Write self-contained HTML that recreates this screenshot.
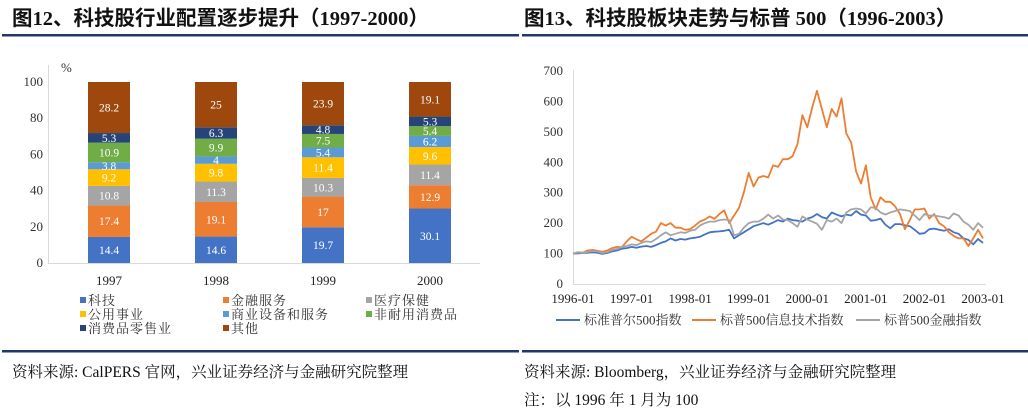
<!DOCTYPE html>
<html><head><meta charset="utf-8"><style>
body{margin:0;background:#fff;}
svg{display:block;font-family:"Liberation Serif","Noto Serif CJK SC",serif;}
</style></head><body>
<svg id="s" width="1028" height="413">
<g><text x="12" y="25" font-size="20.5" font-weight="bold" fill="#111" font-family="Liberation Serif, Noto Sans CJK SC, sans-serif">图12、科技股行业配置逐步提升（1997-2000）</text></g>
<g><text x="524" y="25" font-size="20.5" font-weight="bold" fill="#111" font-family="Liberation Serif, Noto Sans CJK SC, sans-serif">图13、科技股板块走势与标普 500（1996-2003）</text></g>
<rect x="2" y="34" width="517" height="2.5" fill="#1f3864"/>
<rect x="522" y="34" width="506" height="2.5" fill="#1f3864"/>
<rect x="2" y="350" width="517" height="2.5" fill="#1f3864"/>
<rect x="522" y="350" width="506" height="2.5" fill="#1f3864"/>
<text x="12" y="377" font-size="15.5" fill="#111">资料来源: CalPERS 官网，兴业证券经济与金融研究院整理</text>
<text x="524" y="377" font-size="15.5" fill="#111">资料来源: Bloomberg，兴业证券经济与金融研究院整理</text>
<text x="524" y="405" font-size="15.5" fill="#111">注：以 1996 年 1 月为 100</text>
<g id="left"></g>
<g id="right"></g>
</svg>
<script>
const years=['1997','1998','1999','2000'];
const sectors=['科技','金融服务','医疗保健','公用事业','商业设备和服务','非耐用消费品','消费品零售业','其他'];
const colors=['#4472c4','#ed7d31','#a5a5a5','#ffc000','#5b9bd5','#70ad47','#264478','#9e480e'];
const tech=[14.4,14.6,19.7,30.1];
const fin=[17.4,19.1,17,12.9];
const health=[10.8,11.3,10.3,11.4];
const util=[9.2,9.8,11.4,9.6];
const biz=[3.8,4,5.4,6.2];
const nondur=[10.9,9.9,7.5,5.4];
const retail=[5.3,6.3,4.8,5.3];
const other=[28.2,25,23.9,19.1];
const leftTicks=[0,20,40,60,80,100];

const dates=['1996-01','1997-01','1998-01','1999-01','2000-01','2001-01','2002-01','2003-01'];
const rightTicks=[0,100,200,300,400,500,600,700];
const spx=[100,101,102,103,104,103,99,102,107,110,116,118,
122,119,123,125,122,128,135,140,150,143,148,146,
150,152,155,163,170,172,173,175,178,150,160,170,
180,190,195,200,195,202,210,205,215,210,208,205,
215,220,230,220,215,235,228,222,228,225,240,228,
225,208,210,215,195,183,197,197,193,190,178,165,
167,180,182,178,175,180,170,165,150,145,130,148,135];
const itIdx=[100,104,103,110,112,109,106,110,118,122,121,140,
155,147,140,152,165,172,200,192,200,185,185,178,
180,192,205,212,222,214,230,242,200,225,250,300,
365,320,350,355,350,390,385,410,410,420,460,555,
515,580,635,575,515,575,550,610,495,465,370,330,
390,285,245,285,270,270,255,230,180,210,245,245,
248,215,230,200,190,170,158,150,150,125,150,178,150];
const finIdx=[100,105,103,106,108,107,102,105,112,115,122,125,
130,128,135,140,138,148,160,170,160,165,170,168,
175,178,192,200,205,205,210,212,210,160,165,185,
200,205,205,215,228,215,225,212,210,200,188,222,
212,205,198,178,210,205,215,200,235,245,248,245,
232,252,250,235,228,235,240,245,243,240,225,210,
230,225,225,222,220,215,232,225,205,195,178,200,185];
const seriesNames=['标准普尔500指数','标普500信息技术指数','标普500金融指数'];
const seriesColors=['#4472c4','#ed7d31','#a5a5a5'];

const NS='http://www.w3.org/2000/svg';
function mk(parent,tag,attrs,txt){const e=document.createElementNS(NS,tag);for(const k in attrs)e.setAttribute(k,attrs[k]);if(txt!==undefined)e.textContent=txt;parent.appendChild(e);return e;}

// LEFT chart
const L=document.getElementById('left');
const ly=v=>263-v*1.81;
const lx=i=>88+i*107;
const bw=42;
mk(L,'line',{x1:48,x2:480,y1:263.5,y2:263.5,stroke:'#d9d9d9','stroke-width':1});
mk(L,'line',{x1:48.5,x2:48.5,y1:65,y2:263.5,stroke:'#d9d9d9','stroke-width':1});
mk(L,'text',{x:61,y:72,'font-size':13,fill:'#333'},'%');
leftTicks.forEach(t=>{const e=mk(L,'text',{x:43,y:ly(t)+4,'font-size':13,fill:'#333','text-anchor':'end'},t);

});
const stacks=[tech,fin,health,util,biz,nondur,retail,other];
years.forEach((yr,i)=>{
  let cum=0;
  stacks.forEach((arr,k)=>{
    const v=arr[i];
    const r=mk(L,'rect',{x:lx(i),y:ly(cum+v),width:bw,height:ly(cum)-ly(cum+v),fill:colors[k]});
    
    
    const t=mk(L,'text',{x:lx(i)+bw/2,y:(ly(cum)+ly(cum+v))/2+4,'font-size':11.5,fill:'#fff','text-anchor':'middle'},v);
    
    
    cum+=v;
  });
  const xl=mk(L,'text',{x:lx(i)+bw/2,y:285,'font-size':13,fill:'#222','text-anchor':'middle'},yr);
  
  
});
sectors.forEach((s,k)=>{
  const col=k%3,row=Math.floor(k/3);
  const x=80+col*143,y=305+row*14;
  const g=mk(L,'g',{});
  
  
  mk(g,'rect',{x:x,y:y-8,width:6,height:6,fill:colors[k]});
  mk(g,'text',{x:x+8,y:y,'font-size':13,'letter-spacing':'1',fill:'#333','font-family':'Liberation Serif, Noto Serif CJK SC, serif'},s);
});

// RIGHT chart
const R=document.getElementById('right');
const ry=v=>284-v*(213/700);
const rx=i=>573+i*(410/84);
mk(R,'line',{x1:573,x2:986,y1:284.5,y2:284.5,stroke:'#d9d9d9','stroke-width':1});
mk(R,'line',{x1:573.5,x2:573.5,y1:70,y2:284.5,stroke:'#d9d9d9','stroke-width':1});
rightTicks.forEach(t=>{const e=mk(R,'text',{x:563,y:ry(t)+4,'font-size':13,fill:'#333','text-anchor':'end'},t);

});
dates.forEach((d,j)=>{const e=mk(R,'text',{x:rx(j*12),y:303,'font-size':13,fill:'#222','text-anchor':'middle'},d);

});
[spx,itIdx,finIdx].forEach((arr,k)=>{
  const p=mk(R,'polyline',{points:arr.map((v,i)=>rx(i).toFixed(1)+','+ry(v).toFixed(1)).join(' '),fill:'none',stroke:seriesColors[k],'stroke-width':1.8,'stroke-linejoin':'round'});
  
  
});
[556,692,856].forEach((x,k)=>{
  const g=mk(R,'g',{});
  
  
  mk(g,'line',{x1:x,x2:x+24,y1:320,y2:320,stroke:seriesColors[k],'stroke-width':2});
  mk(g,'text',{x:x+28,y:324.5,'font-size':13,fill:'#333','font-family':'Liberation Serif, Noto Serif CJK SC, serif'},seriesNames[k]);
});
</script>
</body></html>
